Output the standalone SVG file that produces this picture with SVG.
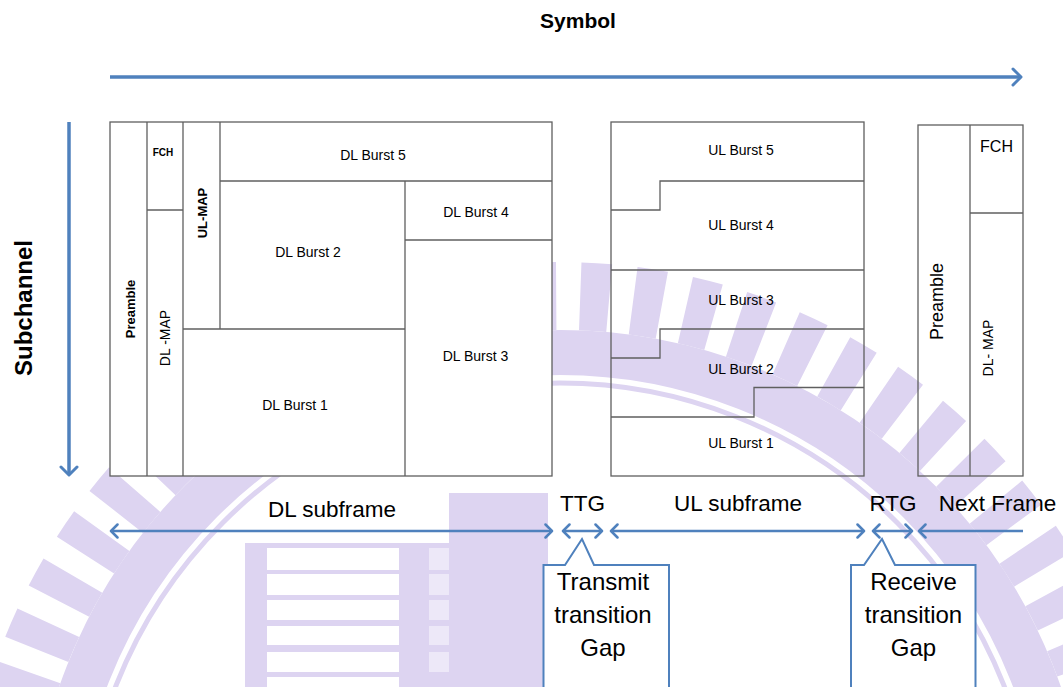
<svg xmlns="http://www.w3.org/2000/svg" width="1063" height="687" viewBox="0 0 1063 687">
<style>
  text { font-family: "Liberation Sans", Arial, sans-serif; fill: #000; }
  .box { fill: none; stroke: #5f5f5f; stroke-width: 1.3; }
  .wbox { fill: #fff; stroke: #5f5f5f; stroke-width: 1.3; }
  .ln { fill: none; stroke: #5f5f5f; stroke-width: 1.3; }
  .cell { font-size: 14px; text-anchor: middle; }
  .big { font-size: 22.5px; text-anchor: middle; }
  .call { font-size: 24px; text-anchor: middle; }
  .axis { fill: none; stroke: #4f81bd; stroke-width: 3.5; }
  .span { fill: none; stroke: #4f81bd; stroke-width: 2.5; }
  .callout { fill: #fff; stroke: #4f81bd; stroke-width: 2; }
  .wm { fill: none; stroke: #ddd4f1; }
</style>
<defs>
  <marker id="bigHead" markerUnits="userSpaceOnUse" markerWidth="16" markerHeight="20" refX="12" refY="10" orient="auto">
    <path d="M4,2 L12,10 L4,18" fill="none" stroke="#4f81bd" stroke-width="3" stroke-linecap="round" stroke-linejoin="round"/>
  </marker>
  <marker id="smallHead" markerUnits="userSpaceOnUse" markerWidth="12" markerHeight="16" refX="9" refY="8" orient="auto-start-reverse">
    <path d="M2.5,1.5 L9,8 L2.5,14.5" fill="none" stroke="#4f81bd" stroke-width="2.5" stroke-linecap="round" stroke-linejoin="round"/>
  </marker>
</defs>
<rect x="0" y="0" width="1063" height="687" fill="#fff"/>

<!-- faint background watermark -->
<g id="watermark">
  <circle class="wm" cx="560" cy="860" r="564" stroke-width="68" stroke-dasharray="29 24.1" stroke-dashoffset="-22.8"/>
  <circle class="wm" cx="560" cy="860" r="507.5" stroke-width="45"/>
  <circle class="wm" cx="560" cy="860" r="477" stroke-width="5"/>
  <rect x="449" y="493" width="99" height="194" fill="#ddd4f1"/>
  <rect x="245" y="543" width="303" height="144" fill="#ddd4f1"/>
  <g fill="#fff">
    <rect x="267" y="548" width="132" height="22"/>
    <rect x="267" y="574" width="132" height="21"/>
    <rect x="267" y="600" width="132" height="20"/>
    <rect x="267" y="626" width="132" height="19"/>
    <rect x="267" y="652" width="132" height="20"/>
    <rect x="267" y="677" width="132" height="10"/>
  </g>
  <g fill="#ede8f8">
    <rect x="429" y="548" width="20" height="22"/>
    <rect x="429" y="574" width="20" height="21"/>
    <rect x="429" y="600" width="20" height="20"/>
    <rect x="429" y="626" width="20" height="19"/>
    <rect x="429" y="652" width="20" height="20"/>
  </g>
</g>

<!-- axes -->
<text x="578" y="28" font-size="21" font-weight="bold" text-anchor="middle">Symbol</text>
<text transform="translate(31.5,308) rotate(-90)" font-size="24" font-weight="bold" text-anchor="middle">Subchannel</text>

<g id="connectors">
  <line class="axis" x1="110" y1="77" x2="1021" y2="77" marker-end="url(#bigHead)"/>
  <line class="axis" x1="69" y1="122" x2="69" y2="475" stroke-width="3" marker-end="url(#bigHead)"/>
  <line class="span" x1="111" y1="531" x2="552" y2="531" marker-start="url(#smallHead)" marker-end="url(#smallHead)"/>
  <line class="span" x1="563" y1="531" x2="602" y2="531" marker-start="url(#smallHead)" marker-end="url(#smallHead)"/>
  <line class="span" x1="611" y1="531" x2="864" y2="531" marker-start="url(#smallHead)" marker-end="url(#smallHead)"/>
  <line class="span" x1="873" y1="531" x2="912" y2="531" marker-start="url(#smallHead)" marker-end="url(#smallHead)"/>
  <line class="span" x1="919" y1="531" x2="1023" y2="531" marker-start="url(#smallHead)"/>
</g>

<!-- DL subframe -->
<g id="dl-frame">
  <rect class="wbox" x="110" y="122" width="442" height="354"/>
  <line class="ln" x1="147" y1="122" x2="147" y2="476"/>
  <line class="ln" x1="183" y1="122" x2="183" y2="476"/>
  <line class="ln" x1="147" y1="210" x2="183" y2="210"/>
  <line class="ln" x1="220" y1="122" x2="220" y2="329"/>
  <line class="ln" x1="183" y1="329" x2="405" y2="329"/>
  <line class="ln" x1="220" y1="181" x2="552" y2="181"/>
  <line class="ln" x1="405" y1="181" x2="405" y2="476"/>
  <line class="ln" x1="405" y1="240" x2="552" y2="240"/>
</g>
<g id="dl-preamble"><text transform="translate(135,309) rotate(-90)" font-size="13" font-weight="bold" text-anchor="middle">Preamble</text></g>
<g id="dl-fch"><text x="163" y="155.5" font-size="10" font-weight="bold" text-anchor="middle">FCH</text></g>
<g id="dl-dlmap"><text transform="translate(170,338) rotate(-90)" font-size="14" text-anchor="middle">DL -MAP</text></g>
<g id="dl-ulmap"><text transform="translate(206.5,213) rotate(-90)" font-size="13" font-weight="bold" text-anchor="middle">UL-MAP</text></g>
<g id="dl-burst5"><text class="cell" x="373" y="160">DL Burst 5</text></g>
<g id="dl-burst4"><text class="cell" x="476" y="217">DL Burst 4</text></g>
<g id="dl-burst2"><text class="cell" x="308" y="256.5">DL Burst 2</text></g>
<g id="dl-burst3"><text class="cell" x="475.5" y="360.5">DL Burst 3</text></g>
<g id="dl-burst1"><text class="cell" x="295" y="409.5">DL Burst 1</text></g>

<!-- UL subframe -->
<g id="ul-frame">
  <rect class="box" x="611" y="122" width="253" height="354"/>
  <path class="ln" d="M611,210 H660 V181 H864"/>
  <line class="ln" x1="611" y1="270" x2="864" y2="270"/>
  <path class="ln" d="M611,358 H660 V329 H864"/>
  <path class="ln" d="M611,417 H754 V387.5 H864"/>
</g>
<g id="ul-burst5"><text class="cell" x="741" y="155">UL Burst 5</text></g>
<g id="ul-burst4"><text class="cell" x="741" y="229.5">UL Burst 4</text></g>
<g id="ul-burst3"><text class="cell" x="741" y="304.5">UL Burst 3</text></g>
<g id="ul-burst2"><text class="cell" x="741" y="373.5">UL Burst 2</text></g>
<g id="ul-burst1"><text class="cell" x="741" y="447.5">UL Burst 1</text></g>

<!-- Next frame -->
<g id="next-frame">
  <rect class="box" x="918" y="125" width="105" height="351"/>
  <line class="ln" x1="970" y1="125" x2="970" y2="476"/>
  <line class="ln" x1="970" y1="213" x2="1023" y2="213"/>
</g>
<g id="nf-preamble"><text transform="translate(943,301.5) rotate(-90)" font-size="18" text-anchor="middle">Preamble</text></g>
<g id="nf-fch"><text x="996.5" y="151.5" font-size="16" text-anchor="middle">FCH</text></g>
<g id="nf-dlmap"><text transform="translate(993,348) rotate(-90)" font-size="14" text-anchor="middle">DL- MAP</text></g>

<!-- span labels -->
<g id="lbl-dl"><text class="big" x="332" y="516.5">DL subframe</text></g>
<g id="lbl-ttg"><text class="big" x="582.5" y="510.5">TTG</text></g>
<g id="lbl-ul"><text class="big" x="738" y="510.5">UL subframe</text></g>
<g id="lbl-rtg"><text class="big" x="893" y="510.5">RTG</text></g>
<g id="lbl-next"><text class="big" x="997.5" y="510.5">Next Frame</text></g>

<!-- callouts -->
<g id="callout-ttg">
  <path class="callout" d="M543.5,565 H565 L582,539 L594,565 H669 V692 H543.5 Z"/>
  <text class="call" x="603" y="589.5">Transmit</text>
  <text class="call" x="603" y="623">transition</text>
  <text class="call" x="603" y="656">Gap</text>
</g>
<g id="callout-rtg">
  <path class="callout" d="M851,565 H864 L882,539 L895,565 H975.5 V692 H851 Z"/>
  <text class="call" x="913.5" y="589.5">Receive</text>
  <text class="call" x="913.5" y="623">transition</text>
  <text class="call" x="913.5" y="656">Gap</text>
</g>
</svg>
